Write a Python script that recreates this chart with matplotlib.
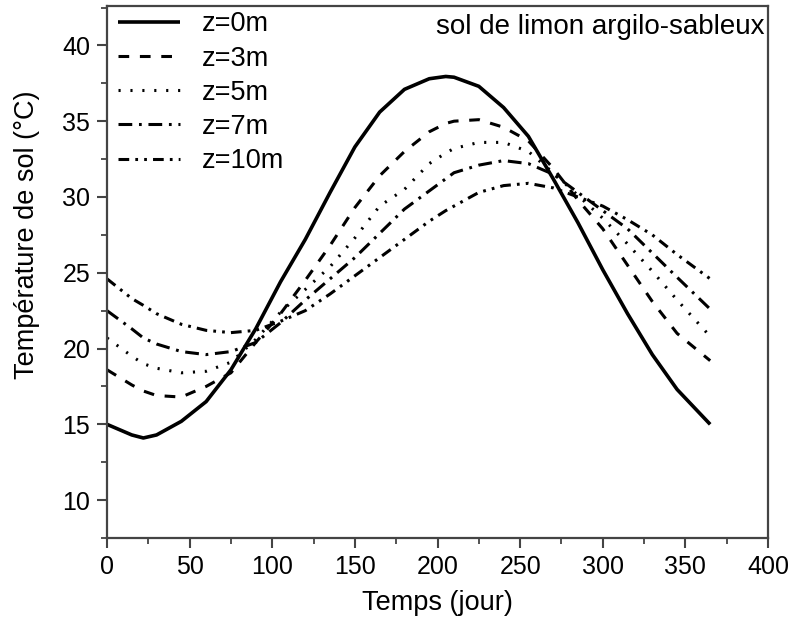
import matplotlib
matplotlib.use("Agg")
import matplotlib.pyplot as plt
from matplotlib.ticker import MultipleLocator

plt.rcParams['font.family'] = ['Liberation Sans', 'DejaVu Sans']

# values (day of year -> soil temperature, deg C)
days = [0, 15, 22, 30, 45, 60, 75, 90, 105, 120, 135, 150, 165, 180,
        195, 205, 210, 225, 240, 255, 270, 285, 300, 315, 330, 345, 365]

temp_z0 = [15.0, 14.3, 14.1, 14.3, 15.2, 16.5, 18.6, 21.3, 24.4, 27.2, 30.3, 33.3, 35.6, 37.1,
           37.8, 37.95, 37.9, 37.3, 35.9, 34.0, 31.2, 28.3, 25.2, 22.3, 19.6, 17.3, 15.0]
temp_z3 = [18.6, 17.6, 17.2, 16.9, 16.8, 17.5, 18.4, 20.4, 22.3, 24.5, 26.8, 29.3, 31.4, 33.0,
           34.3, 34.85, 35.0, 35.1, 34.6, 33.7, 31.9, 29.8, 27.9, 25.5, 23.1, 21.0, 19.2]
temp_z5 = [20.7, 19.5, 19.0, 18.7, 18.4, 18.5, 19.1, 20.6, 22.4, 23.9, 25.4, 27.3, 29.4, 30.5,
           32.2, 32.9, 33.2, 33.6, 33.6, 33.0, 31.6, 30.1, 28.6, 26.9, 25.1, 23.2, 20.8]
temp_z7 = [22.5, 21.3, 20.7, 20.3, 19.8, 19.6, 19.8, 20.4, 21.7, 23.2, 24.6, 26.0, 27.6, 29.2,
           30.4, 31.2, 31.6, 32.1, 32.4, 32.2, 31.5, 30.3, 29.1, 27.9, 26.3, 24.7, 22.6]
temp_z10 = [24.6, 23.3, 22.85, 22.3, 21.6, 21.2, 21.05, 21.2, 21.8, 22.5, 23.6, 24.8, 26.0, 27.2,
            28.4, 29.1, 29.4, 30.3, 30.75, 30.9, 30.6, 30.0, 29.4, 28.5, 27.5, 26.2, 24.6]

labels = ['z=0m', 'z=3m', 'z=5m', 'z=7m', 'z=10m']
series = [temp_z0, temp_z3, temp_z5, temp_z7, temp_z10]
dash_styles = [(0, ()), (0, (3.5, 3.5)), (0, (0.7, 3.2)), (0, (4.5, 2.2, 0.9, 2.2)),
               (0, (3.5, 2.0, 0.9, 2.0, 0.9, 2.0))]

fig = plt.figure(figsize=(7.89, 6.30), dpi=100)
ax = fig.add_axes([0.1356, 0.146, 0.8378, 0.8445])

for temps, lab, ls in zip(series, labels, dash_styles):
    ax.plot(days, temps, color='black', linewidth=2.2 if lab != 'z=0m' else 2.6,
            linestyle=ls, label=lab)

ax.set_xlim(0, 400)
ax.set_ylim(7.5, 42.6)
ax.xaxis.set_major_locator(MultipleLocator(50))
ax.xaxis.set_minor_locator(MultipleLocator(25))
ax.yaxis.set_major_locator(MultipleLocator(5))
ax.yaxis.set_minor_locator(MultipleLocator(2.5))
ax.set_yticks([10, 15, 20, 25, 30, 35, 40])

for sp in ax.spines.values():
    sp.set_color('#444444')
    sp.set_linewidth(1.6)
ax.tick_params(which='major', direction='out', length=7, width=1.5, color='#444444',
               labelsize=18, top=False, right=False, pad=5)
ax.tick_params(which='minor', direction='out', length=4, width=1.3, color='#444444',
               top=False, right=False)

ax.set_xlabel('Temps (jour)', fontsize=19.5, labelpad=8)
ax.set_ylabel('Température de sol (°C)', fontsize=19.5)
ax.yaxis.set_label_coords(-0.102, 0.57)

ax.legend(loc='upper left', frameon=False, fontsize=19.5, handlelength=2.3,
          handletextpad=0.8, labelspacing=0.3, borderaxespad=0.0,
          bbox_to_anchor=(0.0, 1.01))
ax.text(0.995, 0.985, 'sol de limon argilo-sableux', transform=ax.transAxes,
        ha='right', va='top', fontsize=20)

fig.savefig('out.png', dpi=100)
